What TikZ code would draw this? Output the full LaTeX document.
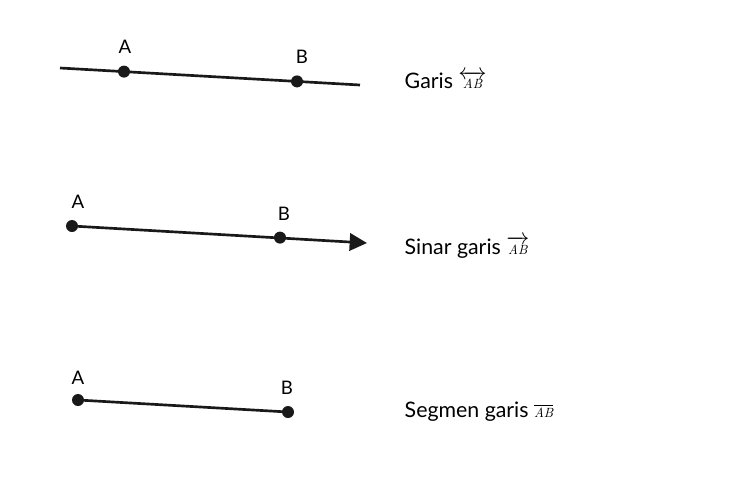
\documentclass[tikz,border=0pt]{standalone}
\usepackage{amsmath}
\usepackage{fontspec}
\setmainfont{Lato}
\newfontfamily\lmser{Latin Modern Roman}
\newcommand{\abtxt}{\text{\lmser\itshape\fontsize{10}{12}\selectfont AB}}
\usetikzlibrary{arrows.meta}
\begin{document}
\begin{tikzpicture}[x=0.75pt,y=-0.75pt,
  ln/.style={line width=2pt,black!90},
  pt/.style={circle,fill=black!90,inner sep=0pt,minimum size=9pt},
  lbl/.style={font=\fontsize{14}{16}\selectfont},
  captxt/.style={anchor=west,font=\fontsize{16}{18}\selectfont}]
\useasboundingbox (0,0) rectangle (750,500);
% line
\coordinate (l1) at (60,68); \coordinate (r1) at (360,85);
\draw[ln] (l1) -- (r1);
\node[pt] (A1) at (124,71.6) {}; \node[pt] (B1) at (297,81.4) {};
\node[lbl] at (125,47) {A}; \node[lbl] at (302,57) {B};
\node[captxt] (c1) at (400,80) {Garis $\overleftrightarrow{\abtxt}$};
% ray
\node[pt] (A2) at (72,226) {}; \node[pt] (B2) at (280,237.6) {};
\coordinate (r2) at (367,243);
\draw[ln,-{Triangle[length=13pt,width=13pt]}] (A2.center) -- (r2);
\node[lbl] at (78,202) {A}; \node[lbl] at (284,214) {B};
\node[captxt] (c2) at (400,247) {Sinar garis $\overrightarrow{\abtxt}$};
% segment
\node[pt] (A3) at (78,400) {}; \node[pt] (B3) at (288,412) {};
\draw[ln] (A3.center) -- (B3.center);
\node[lbl] at (78,378) {A}; \node[lbl] at (287,388) {B};
\node[captxt] (c3) at (400,412) {Segmen garis $\overline{\abtxt}$};
\end{tikzpicture}
\end{document}
